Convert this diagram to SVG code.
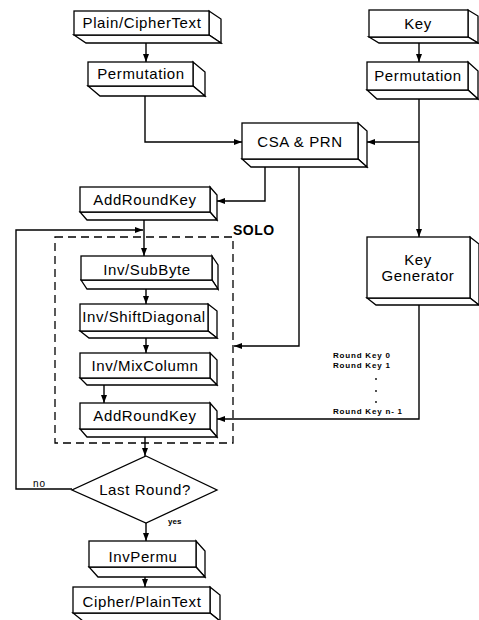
<svg xmlns="http://www.w3.org/2000/svg" width="479" height="620" viewBox="0 0 479 620">
<defs>
<marker id="arr" markerUnits="userSpaceOnUse" markerWidth="8" markerHeight="6" refX="8" refY="3" orient="auto">
<path d="M0,0 L8,3 L0,6 z" fill="#000"/>
</marker>
<style>
.f{fill:#fff;stroke:#000;stroke-width:1.3;stroke-linejoin:miter}
.t{font-family:"Liberation Sans",Arial,Helvetica,sans-serif;font-size:15px;letter-spacing:0.6px;text-anchor:middle;fill:#000}
.c{fill:none;stroke:#000;stroke-width:1.4}
.s{font-family:"Liberation Sans",Arial,Helvetica,sans-serif;font-weight:bold;font-size:8px;letter-spacing:0.8px;fill:#000}
</style>
</defs>
<rect width="479" height="620" fill="#fff"/>

<g id="plain">
<polygon class="f" points="209,11 221,19 221,43 209,35"/>
<polygon class="f" points="74,35 209,35 221,43 86,43"/>
<rect class="f" x="74" y="11" width="135" height="24"/>
<text class="t" x="142" y="28">Plain/CipherText</text>
</g>
<g id="perm1">
<polygon class="f" points="193,62 205,72 205,96 193,86"/>
<polygon class="f" points="88,86 193,86 205,96 100,96"/>
<rect class="f" x="88" y="62" width="105" height="24"/>
<text class="t" x="141" y="79">Permutation</text>
</g>
<g id="key">
<polygon class="f" points="468,10 478,16 478,43 468,37"/>
<polygon class="f" points="369,37 468,37 478,43 379,43"/>
<rect class="f" x="369" y="10" width="99" height="27"/>
<text class="t" x="418" y="29">Key</text>
</g>
<g id="perm2">
<polygon class="f" points="468,62 478,71 478,99 468,90"/>
<polygon class="f" points="367,90 468,90 478,99 377,99"/>
<rect class="f" x="367" y="62" width="101" height="28"/>
<text class="t" x="418" y="81">Permutation</text>
</g>
<g id="csa">
<polygon class="f" points="358,123 367,131 367,167 358,159"/>
<polygon class="f" points="242,159 358,159 367,167 251,167"/>
<rect class="f" x="242" y="123" width="116" height="36"/>
<text class="t" x="300" y="147">CSA &amp; PRN</text>
</g>
<g id="ark1">
<polygon class="f" points="210,187 217,195 217,220 210,212"/>
<polygon class="f" points="80,212 210,212 217,220 87,220"/>
<rect class="f" x="80" y="187" width="130" height="25"/>
<text class="t" x="145" y="205">AddRoundKey</text>
</g>
<g id="keygen">
<polygon class="f" points="470,237 479,244 479,305 470,298"/>
<polygon class="f" points="367,298 470,298 479,305 376,305"/>
<rect class="f" x="367" y="237" width="103" height="61"/>
<text class="t" x="418" y="265">Key</text>
<text class="t" x="418" y="281">Generator</text>
</g>
<g id="solo">
<rect x="55" y="237" width="178" height="206" fill="none" stroke="#000" stroke-width="1.3" stroke-dasharray="8,5"/>
<text x="233" y="235" font-family="Liberation Sans,Arial,sans-serif" font-size="14" font-weight="bold" letter-spacing="0.5">SOLO</text>
</g>
<g id="subbyte">
<polygon class="f" points="212,256 218,265 218,289 212,280"/>
<polygon class="f" points="81,280 212,280 218,289 87,289"/>
<rect class="f" x="81" y="256" width="131" height="24"/>
<text class="t" x="147" y="275">Inv/SubByte</text>
</g>
<g id="shiftdiag">
<polygon class="f" points="208,304 217,311 217,338 208,331"/>
<polygon class="f" points="80,331 208,331 217,338 89,338"/>
<rect class="f" x="80" y="304" width="128" height="27"/>
<text class="t" x="144" y="322">Inv/ShiftDiagonal</text>
</g>
<g id="mixcol">
<polygon class="f" points="210,353 217,360 217,385 210,378"/>
<polygon class="f" points="80,378 210,378 217,385 87,385"/>
<rect class="f" x="80" y="353" width="130" height="25"/>
<text class="t" x="145" y="371">Inv/MixColumn</text>
</g>
<g id="ark2">
<polygon class="f" points="210,403 217,411 217,437 210,429"/>
<polygon class="f" points="80,429 210,429 217,437 87,437"/>
<rect class="f" x="80" y="403" width="130" height="26"/>
<text class="t" x="145" y="421">AddRoundKey</text>
</g>
<g id="lastround">
<polygon class="f" points="146,456 217,490 146,523 72,490"/>
<text class="t" x="145" y="495">Last Round?</text>
</g>
<g id="invpermu">
<polygon class="f" points="196,541 205,551 205,577 196,567"/>
<polygon class="f" points="89,567 196,567 205,577 98,577"/>
<rect class="f" x="89" y="541" width="107" height="26"/>
<text class="t" x="143" y="562">InvPermu</text>
</g>
<g id="cipher">
<polygon class="f" points="210,587 220,595 220,621 210,613"/>
<polygon class="f" points="73,613 210,613 220,621 83,621"/>
<rect class="f" x="73" y="587" width="137" height="26"/>
<text class="t" x="142" y="607">Cipher/PlainText</text>
</g>

<g id="connectors">
<path class="c" d="M146,43 V62" marker-end="url(#arr)"/>
<path class="c" d="M145,96 V142 H242" marker-end="url(#arr)"/>
<path class="c" d="M419,43 V62" marker-end="url(#arr)"/>
<path class="c" d="M419,99 V237" marker-end="url(#arr)"/>
<path class="c" d="M419,142 H367" marker-end="url(#arr)"/>
<path class="c" d="M265,167 V201 H217" marker-end="url(#arr)"/>
<path class="c" d="M299,167 V346 H234" marker-end="url(#arr)"/>
<path class="c" d="M144,220 V256" marker-end="url(#arr)"/>
<path class="c" d="M72,489 H16 V230 H143" marker-end="url(#arr)"/>
<path class="c" d="M146,289 V304" marker-end="url(#arr)"/>
<path class="c" d="M146,338 V353" marker-end="url(#arr)"/>
<path class="c" d="M104,385 V403" marker-end="url(#arr)"/>
<path class="c" d="M419,305 V419 H217" marker-end="url(#arr)"/>
<path class="c" d="M145,437 V456" marker-end="url(#arr)"/>
<path class="c" d="M146,523 V541" marker-end="url(#arr)"/>
<path class="c" d="M145,577 V587" marker-end="url(#arr)"/>
<text x="33" y="487" font-family="Liberation Sans,Arial,sans-serif" font-size="10" letter-spacing="1">no</text>
<text x="168" y="524" font-family="Liberation Sans,Arial,sans-serif" font-size="8" font-weight="bold">yes</text>
<text class="s" x="333" y="358">Round Key 0</text>
<text class="s" x="333" y="368">Round Key 1</text>
<circle cx="376" cy="379" r="0.9" fill="#000"/>
<circle cx="376" cy="391" r="0.9" fill="#000"/>
<circle cx="376" cy="402" r="0.9" fill="#000"/>
<text class="s" x="333" y="414">Round Key n- 1</text>
</g>
</svg>
